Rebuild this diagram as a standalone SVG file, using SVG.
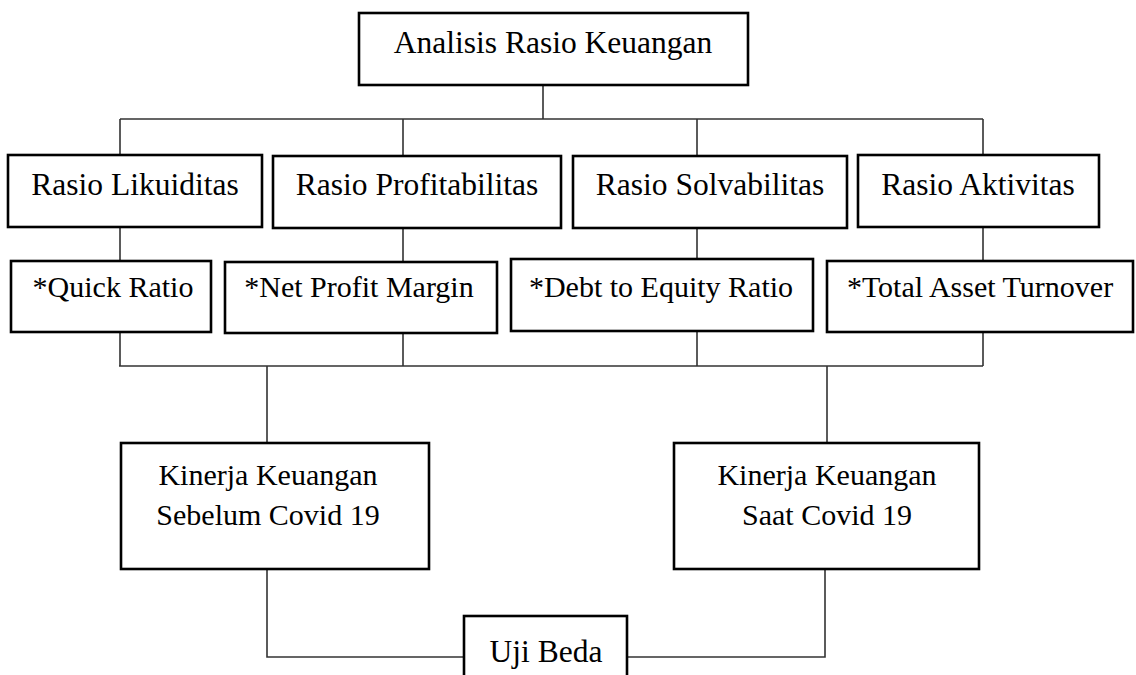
<svg xmlns="http://www.w3.org/2000/svg" width="1136" height="675" viewBox="0 0 1136 675">
<style>
.box{fill:#fff;stroke:#000;stroke-width:2.6}
.t{font-family:"Liberation Serif","Times New Roman",serif;fill:#000;text-anchor:middle}
.t1{font-size:31.5px}
.t2{font-size:30px}
.c{fill:none;stroke:#333;stroke-width:1.6}
</style>
<rect width="1136" height="675" fill="#fff"/>
<g id="connectors">
<path class="c" d="M543 85V119M120 119H983M120 119V155M403 119V156M697 119V156M983 119V155"/>
<path class="c" d="M120 227V261M403 228V262M697 228V259M983 227V261"/>
<path class="c" d="M120 332V366M403 333V366M697 331V366M983 332V366M119 366H983"/>
<path class="c" d="M267 366V443M827 366V443"/>
<path class="c" d="M267 569V657H464M825 569V657H627"/>
</g>
<g id="n-analisis"><rect class="box" x="359" y="13" width="389" height="72"/><text class="t t1" x="553" y="53">Analisis Rasio Keuangan</text></g>
<g id="n-likuiditas"><rect class="box" x="8" y="155" width="254" height="72"/><text class="t t1" x="135" y="195">Rasio Likuiditas</text></g>
<g id="n-profitabilitas"><rect class="box" x="273" y="156" width="288" height="72"/><text class="t t1" x="417" y="195">Rasio Profitabilitas</text></g>
<g id="n-solvabilitas"><rect class="box" x="573" y="156" width="274" height="72"/><text class="t t1" x="710" y="195">Rasio Solvabilitas</text></g>
<g id="n-aktivitas"><rect class="box" x="858" y="155" width="241" height="72"/><text class="t t1" x="978" y="195">Rasio Aktivitas</text></g>
<g id="n-quick"><rect class="box" x="11" y="261" width="200" height="71"/><text class="t t2" x="113" y="297">*Quick Ratio</text></g>
<g id="n-npm"><rect class="box" x="225" y="262" width="272" height="71"/><text class="t t2" x="359" y="297">*Net Profit Margin</text></g>
<g id="n-der"><rect class="box" x="511" y="259" width="302" height="72"/><text class="t t2" x="661" y="297">*Debt to Equity Ratio</text></g>
<g id="n-tato"><rect class="box" x="827" y="261" width="306" height="71"/><text class="t t2" x="980" y="297">*Total Asset Turnover</text></g>
<g id="n-sebelum"><rect class="box" x="121" y="443" width="308" height="126"/><text class="t t2" x="268" y="485">Kinerja Keuangan</text><text class="t t2" x="268" y="525">Sebelum Covid 19</text></g>
<g id="n-saat"><rect class="box" x="674" y="443" width="305" height="126"/><text class="t t2" x="827" y="485">Kinerja Keuangan</text><text class="t t2" x="827" y="525">Saat Covid 19</text></g>
<g id="n-uji"><rect class="box" x="464" y="616" width="163" height="90"/><text class="t t1" x="546" y="662">Uji Beda</text></g>
</svg>
